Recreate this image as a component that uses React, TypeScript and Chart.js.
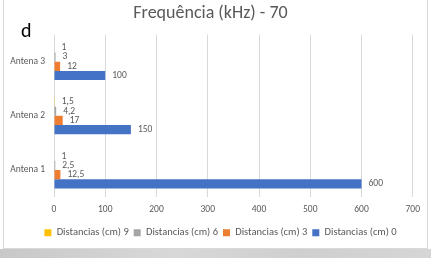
import React, { useEffect, useRef } from "react";
import { Chart, registerables } from "chart.js";

Chart.register(...registerables);

const categories = ["Antena 3", "Antena 2", "Antena 1"];
const dist9 = [1, 1.5, 1];
const dist6 = [3, 4.2, 2.5];
const dist3 = [12, 17, 12.5];
const dist0 = [100, 150, 600];
const seriesNames = ["Distancias (cm) 9", "Distancias (cm) 6", "Distancias (cm) 3", "Distancias (cm) 0"];
const seriesColors = ["#FFC000", "#A5A5A5", "#ED7D31", "#4472C4"];
const titleText = "Frequência (kHz) - 70";

const FONT = "Calibri, Carlito, Lato, 'Open Sans', sans-serif";
const SMALL = 9.5;

const labelPlugin = {
  id: "valueLabels",
  afterDatasetsDraw(chart: any) {
    const ctx = chart.ctx;
    ctx.save();
    ctx.font = `${SMALL}px ${FONT}`;
    ctx.fillStyle = "#595959";
    ctx.textBaseline = "middle";
    ctx.textAlign = "left";
    chart.data.datasets.forEach((ds: any, i: number) => {
      const meta = chart.getDatasetMeta(i);
      meta.data.forEach((bar: any, j: number) => {
        const v = ds.data[j];
        const txt = String(v).replace(".", ",");
        ctx.fillText(txt, bar.x + 7, bar.y);
      });
    });
    ctx.restore();
  },
};

const legendShift = {
  id: "legendShift",
  afterLayout(chart: any) {
    if (chart.legend) {
      chart.legend.left += 10;
      chart.legend.right += 10;
    }
  },
};

export default function App() {
  const ref = useRef<HTMLCanvasElement | null>(null);
  useEffect(() => {
    document.body.style.margin = "0";
    const data = [dist9, dist6, dist3, dist0];
    const chart = new Chart(ref.current!, {
      type: "bar",
      data: {
        labels: categories,
        datasets: data.map((d, i) => ({
          label: seriesNames[i],
          data: d,
          backgroundColor: seriesColors[i],
          borderWidth: 0,
          categoryPercentage: 0.68,
          barPercentage: 1,
        })),
      },
      options: {
        indexAxis: "y",
        animation: false,
        responsive: false,
        maintainAspectRatio: false,
        layout: { padding: { left: 0, right: 10, top: 3, bottom: 0 } },
        plugins: {
          title: {
            display: true,
            text: titleText,
            color: "#595959",
            font: { family: FONT, size: 18, weight: "normal" },
            padding: { top: 0, bottom: 10 },
          },
          legend: {
            position: "bottom",
            labels: {
              color: "#595959",
              font: { family: FONT, size: 10.5 },
              boxWidth: 7,
              boxHeight: 7,
              padding: 5,
            },
          },
          tooltip: { enabled: false },
        },
        scales: {
          x: {
            min: 0,
            max: 700,
            ticks: { stepSize: 100, color: "#595959", font: { family: FONT, size: SMALL }, padding: 7 },
            grid: { color: "#d9d9d9", drawTicks: false },
            border: { display: false },
          },
          y: {
            ticks: { color: "#595959", font: { family: FONT, size: SMALL }, padding: 9 },
            grid: { display: false, drawTicks: false },
            border: { display: false },
            afterFit: (s: any) => {
              s.width = 50;
            },
          },
        },
      },
      plugins: [labelPlugin, legendShift],
    });
    return () => chart.destroy();
  }, []);

  return (
    <div style={{ position: "relative", width: 431, height: 258, background: "#fff", overflow: "hidden" }}>
      <div
        style={{
          position: "absolute",
          left: 3,
          top: -1,
          width: 423,
          height: 248,
          border: "1px solid #d9d9d9",
          background: "#fff",
        }}
      >
        <canvas ref={ref} width={423} height={248} style={{ display: "block" }} />
      </div>
      <div
        style={{
          position: "absolute",
          left: 21,
          top: 20,
          fontFamily: FONT,
          fontSize: 20,
          color: "#000",
          lineHeight: "20px",
        }}
      >
        d
      </div>
      <div
        style={{
          position: "absolute",
          left: 0,
          top: 249,
          width: 431,
          height: 9,
          background: "linear-gradient(90deg, #c8c8c8, #d8d8d8 40%, #cfcfcf 70%, #d6d6d6)",
        }}
      />
    </div>
  );
}
